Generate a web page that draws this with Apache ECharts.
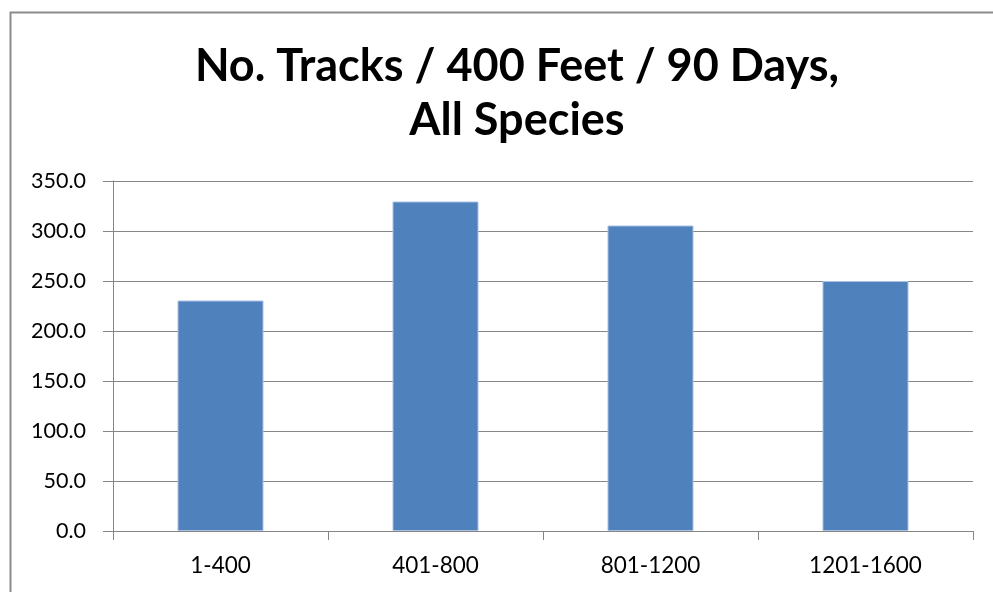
<!DOCTYPE html>
<html>
<head>
<meta charset="utf-8">
<script src="https://cdn.jsdelivr.net/npm/echarts@6/dist/echarts.min.js"></script>
<style>html,body{margin:0;padding:0;background:#fff;}#c{width:993px;height:592px;}</style>
</head>
<body>
<div id="c"></div>
<script>
const categories = ['1-400', '401-800', '801-1200', '1201-1600'];
const values = [230.5, 329.5, 305.5, 250.0];
const yTicks = { min: 0, max: 350, interval: 50 };
const titleText = 'No. Tracks / 400 Feet / 90 Days,\nAll Species';

const chart = echarts.init(document.getElementById('c'), null, { renderer: 'canvas' });
chart.setOption({
  backgroundColor: '#fff',
  animation: false,
  title: {
    text: titleText,
    left: 512, top: 34,
    textAlign: 'center',
    textStyle: { fontFamily: 'Lato', fontWeight: 'bold', fontSize: 45, lineHeight: 54, color: '#000' }
  },
  graphic: [{
    type: 'rect', left: 8, top: 10, silent: true,
    shape: { width: 1100, height: 700 },
    style: { fill: 'none', stroke: '#8c8c8c', lineWidth: 2 }
  }],
  grid: { left: 113, right: 20, top: 181, bottom: 61, containLabel: false },
  xAxis: {
    type: 'category', data: categories,
    axisLine: { lineStyle: { color: '#868686', width: 1 } },
    axisTick: { show: true, length: 9, alignWithLabel: false, lineStyle: { color: '#868686' } },
    axisLabel: { fontFamily: 'Lato', fontSize: 22.5, color: '#000', margin: 23 }
  },
  yAxis: {
    type: 'value', min: yTicks.min, max: yTicks.max, interval: yTicks.interval,
    axisLine: { show: true, lineStyle: { color: '#868686', width: 1 } },
    axisTick: { show: true, length: 10, lineStyle: { color: '#868686' } },
    axisLabel: { fontFamily: 'Lato', fontSize: 21.5, color: '#000', margin: 27, formatter: v => v.toFixed(1) },
    splitLine: { show: true, lineStyle: { color: '#868686', width: 1 } }
  },
  series: [{
    type: 'bar', data: values, barWidth: '40%',
    itemStyle: { color: '#4F81BD', borderColor: '#a9c1e2', borderWidth: 1 }
  }]
});
</script>
</body>
</html>
